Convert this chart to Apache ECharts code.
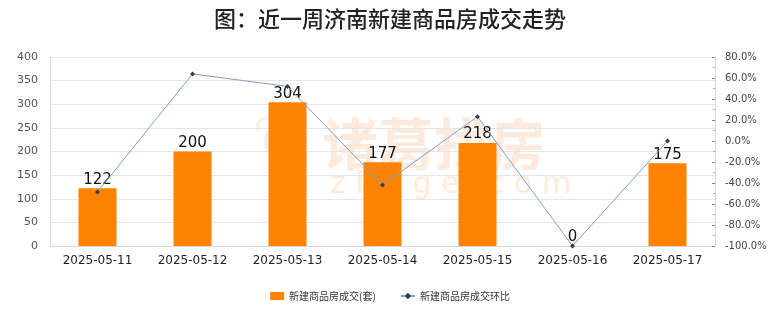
<!DOCTYPE html>
<html><head><meta charset="utf-8">
<script src="https://cdn.jsdelivr.net/npm/echarts@6/dist/echarts.min.js"></script>
<style>html,body{margin:0;padding:0;background:#fff}#c{width:780px;height:328px}</style>
</head><body><div id="c"></div>
<script>
const categories = ['2025-05-11','2025-05-12','2025-05-13','2025-05-14','2025-05-15','2025-05-16','2025-05-17'];
const volume = [122, 200, 304, 177, 218, 0, 175];
const ratio = [-48.5, 63.9, 52.0, -41.8, 23.2, -100.0, 0.0];
const leftTicks = {min: 0, max: 400, interval: 50};
const rightTicks = {min: -100, max: 80, interval: 20};
const titleText = '图：近一周济南新建商品房成交走势';
const seriesNames = ['新建商品房成交(套)', '新建商品房成交环比'];

const chart = echarts.init(document.getElementById('c'));
const font = '"Noto Sans CJK SC", "DejaVu Sans", sans-serif';
chart.setOption({
  animation: false,
  backgroundColor: '#fff',
  title: {text: titleText, left: 'center', top: 3,
    textStyle: {fontSize: 22, fontWeight: 500, color: '#222', fontFamily: font}},
  graphic: [
    {type: 'text', left: 322, top: 116, z: 0, style: {text: '诸葛找房', fill: 'rgba(244,190,140,0.3)', font: 'bold 56px "Noto Sans CJK SC"'}},
    {type: 'text', left: 330, top: 170, z: 0, style: {text: 'z h u g e . c o m', fill: 'rgba(244,190,140,0.3)', font: '30px "DejaVu Sans"'}},
    {type: 'text', left: 252, top: 112, z: 0, style: {text: '❦', fill: 'rgba(244,190,140,0.25)', font: '66px "DejaVu Sans"'}}
  ],
  legend: {bottom: 22, itemGap: 24, itemWidth: 14, itemHeight: 8,
    textStyle: {fontSize: 10, color: '#333', fontFamily: font},
    data: [{name: seriesNames[0], icon: 'rect'}, {name: seriesNames[1]}]},
  grid: {left: 50, right: 65, top: 57, bottom: 82},
  xAxis: {type: 'category', data: categories,
    axisLine: {lineStyle: {color: '#d9d9d9'}}, axisTick: {show: false},
    axisLabel: {fontSize: 12, color: '#222', margin: 9, fontFamily: '"DejaVu Sans", sans-serif'}},
  yAxis: [
    {type: 'value', ...leftTicks,
      axisLine: {show: true, lineStyle: {color: '#d9d9d9'}}, axisTick: {show: false},
      splitLine: {lineStyle: {color: '#e6e6e6'}},
      axisLabel: {fontSize: 11, color: '#555', margin: 12, fontFamily: '"DejaVu Sans", sans-serif'}},
    {type: 'value', ...rightTicks, position: 'right',
      axisLine: {show: true, lineStyle: {color: '#d9d9d9'}},
      axisTick: {show: true, inside: true, length: 3, lineStyle: {color: '#888'}},
      minorTick: {show: true, splitNumber: 2, length: 2, lineStyle: {color: '#aaa'}},
      splitLine: {show: false},
      axisLabel: {fontSize: 10, color: '#444', margin: 10, fontFamily: '"DejaVu Sans", sans-serif',
        formatter: v => v.toFixed(1) + '%'}}
  ],
  series: [
    {name: seriesNames[0], type: 'bar', data: volume, barWidth: 38, z: 2,
      itemStyle: {color: '#FF8200'},
      label: {show: true, position: 'top', distance: 1, fontSize: 15, color: '#111', fontFamily: '"DejaVu Sans", sans-serif'}},
    {name: seriesNames[1], type: 'line', yAxisIndex: 1, data: ratio, z: 3,
      symbol: 'diamond', symbolSize: 5,
      lineStyle: {color: '#7f9fc2', width: 1},
      itemStyle: {color: '#2b3f55'}}
  ]
});
</script></body></html>
